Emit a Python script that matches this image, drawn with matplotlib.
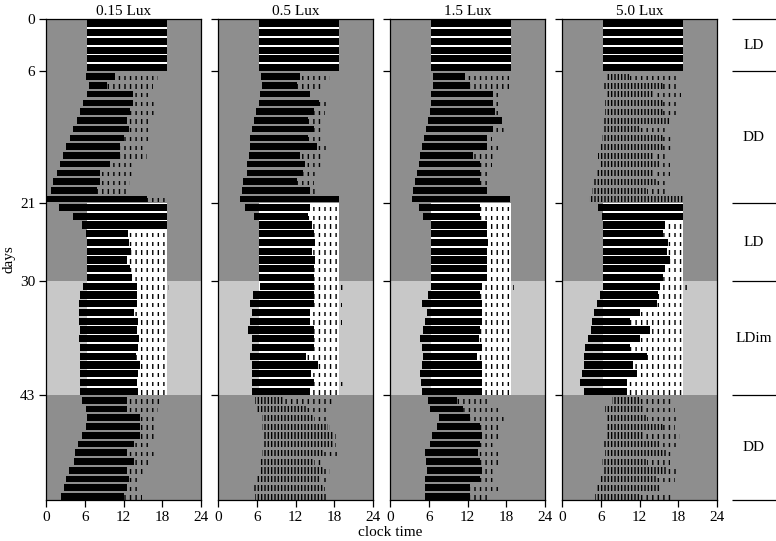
import matplotlib.pyplot as plt
import numpy as np

plt.rcParams['font.family'] = ['Liberation Serif', 'DejaVu Serif']

# --- data (hours of clock time, one value per day/row) ---
titles = ["0.15 Lux", "0.5 Lux", "1.5 Lux", "5.0 Lux"]
section_bounds = [0, 6, 21, 30, 43, 55]
section_names = ["LD", "DD", "LD", "LDim", "DD"]
lights_on = (6.4, 18.8)

onset_015 = [6.4] * 6 + [6.1, 6.6, 6.4, 5.7, 5.3, 4.7, 4.1, 3.7, 3.1, 2.6, 2.1, 1.7, 1.0, 0.7, 0.1] \
    + [1.9, 4.2, 5.5, 6.1, 6.3, 6.3, 6.3, 6.3, 6.3] \
    + [5.7, 5.3, 5.1, 5.1, 5.1, 5.2, 5.1, 5.2, 5.3, 5.2, 5.2, 5.3, 5.2] \
    + [5.5, 6.2, 6.3, 6.1, 5.5, 5.0, 4.5, 4.3, 3.6, 3.1, 2.7, 2.3]
core_015 = [18.7] * 6 + [10.7, 9.5, 13.5, 13.5, 13.0, 12.5, 12.8, 12.0, 11.5, 11.5, 9.9, 8.4, 8.4, 7.9, 15.6] \
    + [18.7, 18.7, 18.7, 12.7, 12.9, 13.2, 12.6, 13.0, 13.3] \
    + [14.1, 14.1, 14.1, 13.6, 14.3, 14.1, 14.4, 14.2, 14.0, 14.5, 14.3, 14.1, 14.2] \
    + [12.5, 12.5, 14.6, 14.6, 14.6, 13.6, 12.5, 13.6, 12.5, 12.8, 12.5, 12.0]
offset_015 = [18.7] * 6 + [17.4, 16.6, 16.4, 16.9, 17.2, 15.9, 16.4, 16.1, 15.1, 15.6, 13.8, 13.5, 13.0, 12.8, 18.7] \
    + [18.7] * 9 \
    + [19.0, 18.9, 18.7, 18.7, 18.7, 18.8, 18.7, 18.8, 18.7, 18.8, 18.7, 18.8, 18.8] \
    + [18.2, 17.4, 16.9, 17.2, 17.2, 16.4, 16.9, 16.4, 15.1, 14.5, 14.4, 14.9]

onset_05 = [6.4] * 6 + [6.6, 6.8, 6.5, 6.3, 5.8, 5.5, 5.2, 5.0, 5.0, 4.7, 4.4, 4.4, 3.9, 3.7, 3.4] \
    + [4.2, 5.6, 6.3, 6.3, 6.3, 6.3, 6.3, 6.3, 6.3] \
    + [6.5, 5.4, 4.9, 5.2, 5.0, 4.6, 5.3, 5.2, 4.9, 5.2, 5.2, 5.3, 5.2] \
    + [5.7, 6.0, 6.8, 6.8, 7.1, 7.1, 6.8, 6.5, 6.5, 6.0, 5.4, 5.7]
core_05 = [18.7] * 6 + [12.7, 12.2, 14.3, 15.6, 14.9, 13.9, 14.9, 13.9, 15.4, 12.7, 13.5, 13.2, 12.2, 14.3, 18.7] \
    + [14.3, 13.9, 14.6, 14.8, 15.0, 14.6, 15.1, 14.8, 14.9] \
    + [14.8, 14.8, 14.8, 14.2, 14.2, 14.8, 14.8, 14.8, 13.7, 15.5, 14.4, 14.8, 14.2] \
    + [10.1, 13.7, 14.8, 17.0, 18.0, 18.0, 16.5, 14.8, 16.5, 16.0, 16.5, 16.9]
offset_05 = [18.7] * 6 + [17.4, 16.5, 14.3, 16.7, 16.6, 16.5, 16.5, 16.2, 16.7, 16.5, 15.9, 15.4, 14.9, 15.1, 18.7] \
    + [18.7] * 9 \
    + [19.5, 18.9, 19.3, 18.9, 19.3, 18.9, 18.8, 18.9, 18.9, 18.9, 18.9, 19.5, 18.8] \
    + [17.9, 17.1, 17.1, 17.4, 18.3, 18.3, 18.6, 16.5, 17.4, 17.1, 16.6, 16.9]

onset_15 = [6.4] * 6 + [6.6, 6.7, 6.4, 6.3, 6.1, 5.8, 5.6, 5.2, 4.9, 4.6, 4.4, 4.1, 3.9, 3.6, 3.3] \
    + [4.4, 5.1, 6.3, 6.3, 6.3, 6.3, 6.3, 6.3, 6.3] \
    + [6.3, 5.8, 4.9, 5.7, 5.4, 5.1, 4.6, 4.9, 5.1, 4.9, 4.6, 4.7, 4.9] \
    + [5.9, 6.2, 7.5, 7.2, 6.5, 6.2, 5.4, 5.6, 5.7, 5.4, 5.4, 5.4]
core_15 = [18.7] * 6 + [11.6, 12.4, 16.0, 16.0, 16.3, 17.4, 16.0, 15.0, 15.0, 12.9, 14.0, 14.0, 14.0, 15.0, 18.6] \
    + [14.0, 14.0, 15.0, 15.0, 15.2, 15.0, 15.1, 15.0, 15.0] \
    + [14.2, 14.0, 14.2, 14.2, 14.2, 14.0, 13.8, 14.2, 13.4, 14.2, 14.2, 14.2, 14.2] \
    + [10.3, 11.3, 12.4, 13.9, 14.2, 13.9, 13.7, 13.9, 14.3, 13.9, 12.4, 12.4]
offset_15 = [18.7] * 6 + [18.4, 18.4, 17.0, 17.0, 17.1, 17.4, 17.8, 15.8, 16.8, 16.0, 15.8, 15.0, 15.5, 15.0, 18.7] \
    + [18.7] * 9 \
    + [19.2, 19.1, 19.1, 19.0, 19.0, 19.0, 19.0, 19.1, 18.7, 19.0, 19.0, 18.9, 18.7] \
    + [15.5, 17.4, 17.6, 17.1, 17.0, 16.0, 17.1, 17.1, 16.0, 16.5, 17.1, 15.5]

onset_50 = [6.4] * 6 + [6.9, 6.4, 6.9, 6.6, 6.6, 6.4, 6.3, 6.1, 5.9, 5.6, 5.8, 5.4, 4.7, 4.6, 4.2] \
    + [5.6, 6.1, 6.4, 6.4, 6.4, 6.4, 6.4, 6.4, 6.4] \
    + [6.4, 5.8, 5.4, 4.9, 4.6, 4.4, 4.0, 3.6, 3.3, 3.3, 3.0, 2.7, 3.3] \
    + [7.7, 6.6, 6.9, 6.8, 6.9, 6.4, 6.6, 6.1, 6.3, 5.8, 5.3, 5.1]
core_50 = [18.8] * 6 + [10.5, 15.7, 14.2, 15.7, 15.7, 16.7, 12.0, 15.7, 15.7, 14.2, 15.2, 14.2, 14.7, 13.1, 18.8] \
    + [18.8, 18.8, 16.0, 15.7, 16.5, 16.2, 16.7, 16.0, 15.7] \
    + [15.2, 14.9, 14.7, 12.1, 10.5, 13.6, 12.1, 10.5, 13.1, 11.0, 11.6, 10.0, 10.0] \
    + [12.1, 12.6, 13.1, 15.7, 12.6, 15.2, 16.2, 13.1, 16.2, 14.7, 15.2, 12.1]
offset_50 = [18.8] * 6 + [18.0, 18.0, 18.5, 18.0, 18.0, 16.7, 16.5, 17.3, 17.0, 16.5, 16.8, 16.7, 16.3, 16.3, 19.0] \
    + [18.8] * 9 \
    + [19.6] + [18.8] * 12 \
    + [17.0, 17.5, 17.6, 17.5, 18.3, 18.2, 17.0, 16.7, 17.6, 17.5, 15.7, 17.0]

onsets = [onset_015, onset_05, onset_15, onset_50]
cores = [core_015, core_05, core_15, core_50]
offsets = [offset_015, offset_05, offset_15, offset_50]
# DD sections drawn as scattered activity rather than solid blocks
sparse_dd1 = [False, False, False, True]
sparse_dd2 = [False, True, False, True]

dark = "#8e8e8e"
light = "#c8c8c8"

fig = plt.figure(figsize=(7.76, 5.41), dpi=100)
W, H = 776, 541
bottom = 1 - 500 / H
height = 481 / H
lefts = [46.3, 218.3, 390.3, 562.3]

n_days = 55
rows = np.arange(n_days)
for k in range(4):
    ax = fig.add_axes([lefts[k] / W, bottom, 154.4 / W, height])
    ax.set_facecolor(dark)
    ax.axhspan(30, 43, color=light, lw=0, zorder=0)
    for a, b in [(0, 6), (21, 43)]:
        ax.fill_betweenx([a, b], lights_on[0], lights_on[1], color="white", lw=0, zorder=0.5)

    on = np.array(onsets[k])
    co = np.array(cores[k])
    of = np.array(offsets[k])
    for i in rows:
        in_dd1 = 6 <= i < 21
        in_dd2 = i >= 43
        sparse = (in_dd1 and sparse_dd1[k]) or (in_dd2 and sparse_dd2[k])
        h = 0.82 if not (in_dd1 or in_dd2) else 0.75
        if sparse:
            ax.barh(i + 0.97 - 0.35, co[i] - on[i], left=on[i], height=0.7,
                    facecolor="none", edgecolor="black", hatch="|||||", lw=0, zorder=2)
        else:
            ax.barh(i + 0.97 - h / 2, co[i] - on[i], left=on[i], height=h,
                    color="black", lw=0, zorder=2)
        if of[i] > co[i]:
            ax.barh(i + 0.97 - 0.25, of[i] - co[i], left=co[i], height=0.5,
                    facecolor="none", edgecolor="black", hatch="|||", lw=0, zorder=2)

    ax.set_xlim(0, 24)
    ax.set_ylim(n_days, 0)
    ax.set_xticks([0, 6, 12, 18, 24])
    ax.set_yticks([0, 6, 21, 30, 43])
    ax.tick_params(direction="out", length=5, labelsize=11, width=0.9, pad=3)
    if k > 0:
        ax.tick_params(labelleft=False)
    for s in ax.spines.values():
        s.set_linewidth(0.9)
    ax.set_title(titles[k], fontsize=11, pad=3)
    if k == 0:
        ax.set_ylabel("days", fontsize=11)
        ax.yaxis.set_label_coords(-0.2, 0.5)

# right-hand schedule annotation
axr = fig.add_axes([732 / W, bottom, 44 / W, height])
axr.set_xlim(0, 1)
axr.set_ylim(n_days, 0)
axr.axis("off")
axr.hlines(section_bounds, 0, 1, color="black", lw=0.9, clip_on=False)
for a, b, name in zip(section_bounds[:-1], section_bounds[1:], section_names):
    axr.text(0.5, (a + b) / 2, name, ha="center", va="center", fontsize=11)

fig.text(390 / W, 1 - 533 / H, "clock time", ha="center", va="center", fontsize=11)

fig.savefig("out.png", dpi=100)
